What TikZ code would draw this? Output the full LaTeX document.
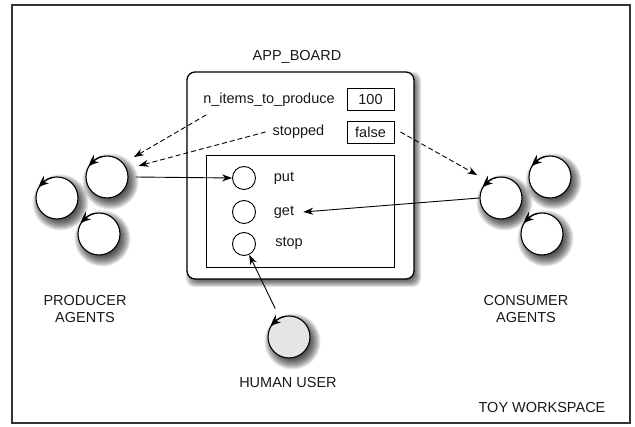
\documentclass[tikz,border=0pt]{standalone}
\usepackage{fontspec}
\setmainfont{Liberation Sans}
\usetikzlibrary{arrows.meta,bending}
\newcommand\cycarrow[1]{\draw[cyc] (#1) ++(-100:21) arc[start angle=-100,end angle=-150,radius=21];}
\newcommand\roundshadow[2]{\foreach \r in {17,...,28} \fill[black,opacity=0.09] ({#1+3.5},{#2+4.5}) circle[radius=\r];}
\begin{document}
\begin{tikzpicture}[x=1pt,y=-1pt,
  every node/.style={font=\fontsize{14.5}{17}\selectfont, text=black!90},
  agent/.style={circle,draw=black,line width=1.1pt,fill=white,minimum size=42pt,inner sep=0pt},
  port/.style={circle,draw=black,line width=0.9pt,fill=white,minimum size=23pt,inner sep=0pt},
  valbox/.style={draw=black,line width=0.9pt,minimum width=47pt,minimum height=22pt,inner sep=0pt},
  lbl/.style={inner sep=1pt},
  cyc/.style={-{Stealth[length=11pt,width=9pt,bend]},line width=1.1pt},
  conn/.style={-{Stealth[length=10pt,width=7pt]},line width=0.9pt},
  dasharrow/.style={conn,dash pattern=on 5pt off 3pt}
]
\useasboundingbox (0,0) rectangle (635,427);
\node[draw=black!80,line width=1.5pt,minimum width=618pt,minimum height=418pt,inner sep=0pt] (ws) at (321,214) {};

% board
\node[lbl] (title) at (297,57) {APP\_BOARD};
\foreach \d in {-3,...,4} \fill[black,opacity=0.11,rounded corners=8] ({190-\d},{76-\d}) rectangle ({417+\d},{283+\d});
\node[draw=black,line width=1.3pt,rounded corners=8pt,fill=white,minimum width=227pt,minimum height=207pt] (board) at (300.5,175.5) {};
\node[lbl] (nitems) at (269,100) {n\_items\_to\_produce};
\node[valbox] (v100) at (370.5,99.5) {100};
\node[lbl] (stopped) at (298.5,132) {stopped};
\node[valbox] (vfalse) at (370.5,132) {false};
\node[draw=black,line width=1pt,minimum width=188pt,minimum height=112pt,inner sep=0pt] (inner) at (300,212) {};
\node[port] (putc) at (244,178) {};
\node[port] (getc) at (244,212) {};
\node[port] (stopc) at (244,244) {};
\node[lbl] (putl) at (284,178) {put};
\node[lbl] (getl) at (284,212) {get};
\node[lbl] (stopl) at (289,243) {stop};

% producers
\roundshadow{107}{177}\roundshadow{57}{198}\roundshadow{99}{234}
\node[agent] (P1) at (107,177) {};
\node[agent] (P2) at (57,198) {};
\node[agent] (P3) at (99,234) {};
\cycarrow{P1}\cycarrow{P2}\cycarrow{P3}
\node[lbl,align=center] (plab) at (85,309) {PRODUCER\\AGENTS};

% consumers
\roundshadow{501}{198}\roundshadow{550}{177}\roundshadow{542}{234}
\node[agent] (C1) at (501,198) {};
\node[agent] (C2) at (550,177) {};
\node[agent] (C3) at (542,234) {};
\cycarrow{C1}\cycarrow{C2}\cycarrow{C3}
\node[lbl,align=center] (clab) at (526,309) {CONSUMER\\AGENTS};

% human
\roundshadow{289}{337}
\node[agent,fill=black!10] (H) at (289,337) {};
\cycarrow{H}
\node[lbl] (hlab) at (288,383) {HUMAN USER};

\node[lbl] (toy) at (542,408) {TOY WORKSPACE};

% connectors
\draw[conn] (P1.east) ++(7,0) -- (putc.west);
\draw[conn] (C1.west) -- ([xshift=8pt]getl.east);
\draw[conn,shorten <=10pt] (H) -- (stopc);
\draw[dasharrow,shorten >=12pt] ([shift={(4,7)}]nitems.south west) -- (P1.40);
\draw[dasharrow,shorten >=12pt] ([xshift=-6pt]stopped.west) -- (P1.22);
\draw[dasharrow,shorten >=12pt] ([xshift=6pt]vfalse.east) -- (C1.128);
\end{tikzpicture}
\end{document}
